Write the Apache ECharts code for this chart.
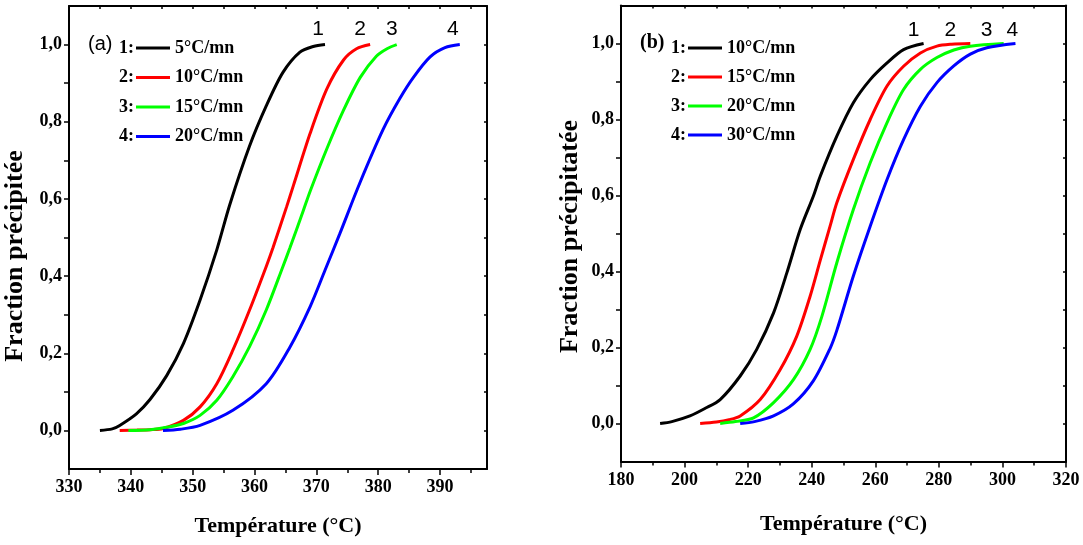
<!DOCTYPE html>
<html>
<head>
<meta charset="utf-8">
<script src="https://cdn.jsdelivr.net/npm/echarts@6.0.0/dist/echarts.min.js"></script>
<style>
html,body{margin:0;padding:0;background:#fff;}
#chart{width:1083px;height:545px;}
</style>
</head>
<body>
<div id="chart"></div>
<script>
// ---------- Panel (a) data ----------
const tA1 = [335.0, 337.0, 338.2, 340.9, 343.1, 345.8, 348.5, 351.2, 353.9, 356.0, 359.2, 361.9, 364.6, 367.3, 369.5, 371.4];
const fA1 = [0, 0.004, 0.013, 0.043, 0.08, 0.142, 0.225, 0.338, 0.468, 0.585, 0.737, 0.841, 0.928, 0.98, 0.995, 1.0];
const tA2 = [338.2, 341.0, 343.1, 345.2, 348.5, 351.2, 353.9, 356.5, 359.2, 361.9, 363.0, 365.2, 366.3, 369.0, 371.7, 374.4, 376.5, 378.7];
const fA2 = [0, 0.001, 0.002, 0.005, 0.026, 0.061, 0.121, 0.208, 0.312, 0.425, 0.474, 0.58, 0.635, 0.77, 0.885, 0.96, 0.989, 1.0];
const tA3 = [339.6, 343.1, 345.8, 348.5, 351.2, 353.9, 356.5, 359.2, 361.9, 364.6, 365.7, 367.9, 369.0, 371.7, 374.4, 377.1, 379.7, 381.5, 383.0];
const fA3 = [0, 0.002, 0.008, 0.018, 0.039, 0.078, 0.139, 0.217, 0.312, 0.425, 0.472, 0.57, 0.62, 0.73, 0.83, 0.915, 0.97, 0.99, 1.0];
const tA4 = [345.2, 348.0, 351.2, 356.5, 361.9, 365.7, 369.0, 371.4, 373.8, 377.0, 380.8, 383.5, 385.7, 388.4, 390.8, 393.2];
const fA4 = [0, 0.003, 0.013, 0.052, 0.121, 0.215, 0.321, 0.415, 0.51, 0.64, 0.78, 0.86, 0.915, 0.968, 0.992, 1.0];
const namesA = ['5°C/mn', '10°C/mn', '15°C/mn', '20°C/mn'];

// ---------- Panel (b) data ----------
const tB1 = [192.3, 196.0, 201.7, 206.5, 211.2, 217.5, 222.7, 228.0, 232.2, 236.4, 240.5, 242.7, 247.9, 253.1, 258.4, 263.7, 268.9, 275.2];
const fB1 = [0, 0.005, 0.02, 0.04, 0.063, 0.125, 0.195, 0.291, 0.397, 0.511, 0.598, 0.651, 0.756, 0.844, 0.905, 0.949, 0.984, 1.0];
const tB2 = [204.9, 210.0, 214.0, 217.5, 223.8, 230.1, 235.3, 239.5, 242.7, 245.8, 247.9, 253.1, 258.4, 263.7, 268.9, 274.2, 279.4, 284.0, 289.9];
const fB2 = [0, 0.004, 0.01, 0.02, 0.063, 0.142, 0.23, 0.335, 0.43, 0.52, 0.581, 0.695, 0.8, 0.888, 0.94, 0.975, 0.993, 0.998, 1.0];
const tB3 = [211.2, 216.0, 221.7, 228.0, 234.3, 239.5, 243.2, 247.9, 253.1, 258.4, 263.7, 268.9, 274.2, 279.4, 284.7, 289.9, 300.4];
const fB3 = [0, 0.005, 0.015, 0.055, 0.116, 0.195, 0.282, 0.423, 0.563, 0.686, 0.792, 0.879, 0.932, 0.963, 0.983, 0.993, 1.0];
const tB4 = [217.5, 222.0, 228.0, 234.3, 240.5, 245.8, 247.9, 253.1, 258.4, 263.7, 268.9, 274.2, 279.4, 284.7, 289.9, 295.1, 304.1];
const fB4 = [0, 0.005, 0.02, 0.052, 0.112, 0.198, 0.245, 0.388, 0.519, 0.642, 0.747, 0.835, 0.897, 0.941, 0.972, 0.989, 1.0];
const namesB = ['10°C/mn', '15°C/mn', '20°C/mn', '30°C/mn'];

// ---------- Axis ticks ----------
const xTicksA = [330, 340, 350, 360, 370, 380, 390];
const xMinorA = [335, 345, 355, 365, 375, 385, 395];
const xTicksB = [180, 200, 220, 240, 260, 280, 300, 320];
const xMinorB = [190, 210, 230, 250, 270, 290, 310];
const yTicks = [0, 0.2, 0.4, 0.6, 0.8, 1.0];
const yAllTicks = [0, 0.1, 0.2, 0.3, 0.4, 0.5, 0.6, 0.7, 0.8, 0.9, 1.0];
const curveNums = ['1', '2', '3', '4'];
const colors = ['#000000', '#ff0000', '#00ff00', '#0000ff'];

const serif = "'Liberation Serif', 'Times New Roman', serif";
const narrow = "'Liberation Sans Narrow', 'Arial Narrow', 'Liberation Sans', sans-serif";

function pairs(t, f) { return t.map((x, i) => [x, f[i]]); }

function lineSeries(name, t, f, color, xi, yi, num, dx, dist) {
  const data = pairs(t, f);
  const last = data.length - 1;
  data[last] = {
    value: data[last],
    label: {show: true, formatter: num, position: 'top', distance: dist, offset: [dx, 0],
            fontFamily: narrow, fontSize: 21, color: '#000'}
  };
  return {
    type: 'line', name: name, data: data, xAxisIndex: xi, yAxisIndex: yi,
    color: color, lineStyle: {width: 3, color: color},
    showSymbol: true, showAllSymbol: true, symbol: 'circle', symbolSize: 0,
    smooth: 0.3,
    label: {show: false}, emphasis: {disabled: true}, silent: true, animation: false
  };
}

const axisLineStyle = {show: true, onZero: false, lineStyle: {color: '#000', width: 2}};
const tickStyle = {color: '#000', width: 1.5};

function bottomAxis(grid, min, max, ticks, name, gap, margin) {
  return {
    gridIndex: grid, type: 'value', position: 'bottom', min: min, max: max,
    axisLine: axisLineStyle,
    axisTick: {show: true, customValues: ticks, length: 6, lineStyle: tickStyle},
    axisLabel: {show: true, customValues: ticks, margin: margin, fontFamily: serif, fontWeight: 'bold', fontSize: 18, color: '#000'},
    splitLine: {show: false},
    name: name, nameLocation: 'middle', nameGap: gap,
    nameTextStyle: {fontFamily: serif, fontWeight: 'bold', fontSize: 22, color: '#000'}
  };
}
function minorAxis(grid, min, max, ticks) {
  return {
    gridIndex: grid, type: 'value', position: 'bottom', min: min, max: max,
    axisLine: {show: true, onZero: false, lineStyle: {color: 'rgba(0,0,0,0)', width: 1}},
    axisTick: {show: true, customValues: ticks, length: 4, lineStyle: tickStyle},
    axisLabel: {show: false}, splitLine: {show: false}
  };
}
function topAxis(grid, min, max, ticks) {
  return {
    gridIndex: grid, type: 'value', position: 'top', min: min, max: max,
    axisLine: axisLineStyle,
    axisTick: {show: true, inside: true, customValues: ticks, length: 3, lineStyle: tickStyle},
    axisLabel: {show: false}, splitLine: {show: false}
  };
}
function leftAxis(grid, name, gap, pad) {
  return {
    gridIndex: grid, type: 'value', position: 'left', min: -0.1, max: 1.1,
    axisLine: axisLineStyle,
    axisTick: {show: true, customValues: yAllTicks, length: 5, lineStyle: tickStyle},
    axisLabel: {show: true, customValues: yTicks, margin: 7, fontFamily: serif, fontWeight: 'bold', fontSize: 18, color: '#000',
                formatter: v => Number(v).toFixed(1).replace('.', ',')},
    splitLine: {show: false},
    name: name, nameLocation: 'middle', nameGap: gap,
    nameTextStyle: {fontFamily: serif, fontWeight: 'bold', fontSize: 26, color: '#000', padding: pad}
  };
}
function rightAxis(grid) {
  return {
    gridIndex: grid, type: 'value', position: 'right', min: -0.1, max: 1.1,
    axisLine: axisLineStyle,
    axisTick: {show: true, inside: true, customValues: yAllTicks, length: 3, lineStyle: tickStyle},
    axisLabel: {show: false}, splitLine: {show: false}
  };
}

function legendFor(names, prefix, left, top, gap) {
  return {
    orient: 'vertical', left: left, top: top, padding: 0,
    data: names.map(n => prefix + n),
    formatter: n => n.slice(prefix.length),
    itemWidth: 34, itemHeight: 3, itemGap: gap,
    icon: 'path://M0 0H34V3H0Z',
    selectedMode: false,
    textStyle: {fontFamily: serif, fontWeight: 'bold', fontSize: 18, color: '#000', lineHeight: 20}
  };
}

function txt(x, y, text, font, size, weight) {
  return {type: 'text', x: x, y: y, silent: true,
    style: {text: text, fontFamily: font, fontSize: size, fontWeight: weight, fill: '#000', verticalAlign: 'middle', align: 'left'}};
}

const minA = 330, maxA = 397.6, minB = 180, maxB = 320;
const xTopA = xTicksA.concat(xMinorA);
const xTopB = xTicksB.concat(xMinorB);

const option = {
  backgroundColor: '#fff',
  animation: false,
  grid: [
    {left: 69, top: 6, width: 418, height: 463},
    {left: 621, top: 5.5, width: 445, height: 456}
  ],
  xAxis: [
    bottomAxis(0, minA, maxA, xTicksA, 'Température (°C)', 46, 9),
    minorAxis(0, minA, maxA, xMinorA),
    topAxis(0, minA, maxA, xTopA),
    bottomAxis(1, minB, maxB, xTicksB, 'Température (°C)', 52, 10),
    minorAxis(1, minB, maxB, xMinorB),
    topAxis(1, minB, maxB, xTopB)
  ],
  yAxis: [
    leftAxis(0, 'Fraction précipitée', 41, [0, 37, 0, 0]),
    rightAxis(0),
    leftAxis(1, 'Fraction précipitatée', 38, [0, 6, 0, 0]),
    rightAxis(1)
  ],
  legend: [
    legendFor(namesA, 'a:', 136, 38, 9.5),
    legendFor(namesB, 'b:', 688, 38, 9)
  ],
  graphic: [
    txt(88, 44, '(a)', narrow, 20, 'normal'),
    txt(119, 48, '1:', serif, 18, 'bold'),
    txt(119, 77.5, '2:', serif, 18, 'bold'),
    txt(119, 107, '3:', serif, 18, 'bold'),
    txt(119, 136.5, '4:', serif, 18, 'bold'),
    txt(640, 43, '(b)', serif, 20, 'bold'),
    txt(671, 48, '1:', serif, 18, 'bold'),
    txt(671, 77, '2:', serif, 18, 'bold'),
    txt(671, 106, '3:', serif, 18, 'bold'),
    txt(671, 135, '4:', serif, 18, 'bold')
  ],
  series: [
    lineSeries('a:' + namesA[0], tA1, fA1, colors[0], 0, 0, curveNums[0], -7, 5),
    lineSeries('a:' + namesA[1], tA2, fA2, colors[1], 0, 0, curveNums[1], -10, 5),
    lineSeries('a:' + namesA[2], tA3, fA3, colors[2], 0, 0, curveNums[2], -5, 5),
    lineSeries('a:' + namesA[3], tA4, fA4, colors[3], 0, 0, curveNums[3], -7, 5),
    lineSeries('b:' + namesB[0], tB1, fB1, colors[0], 3, 2, curveNums[0], -10, 3),
    lineSeries('b:' + namesB[1], tB2, fB2, colors[1], 3, 2, curveNums[1], -20, 3),
    lineSeries('b:' + namesB[2], tB3, fB3, colors[2], 3, 2, curveNums[2], -17, 3),
    lineSeries('b:' + namesB[3], tB4, fB4, colors[3], 3, 2, curveNums[3], -3, 3)
  ]
};

const chart = echarts.init(document.getElementById('chart'), null, {renderer: 'canvas'});
chart.setOption(option);
</script>
</body>
</html>
